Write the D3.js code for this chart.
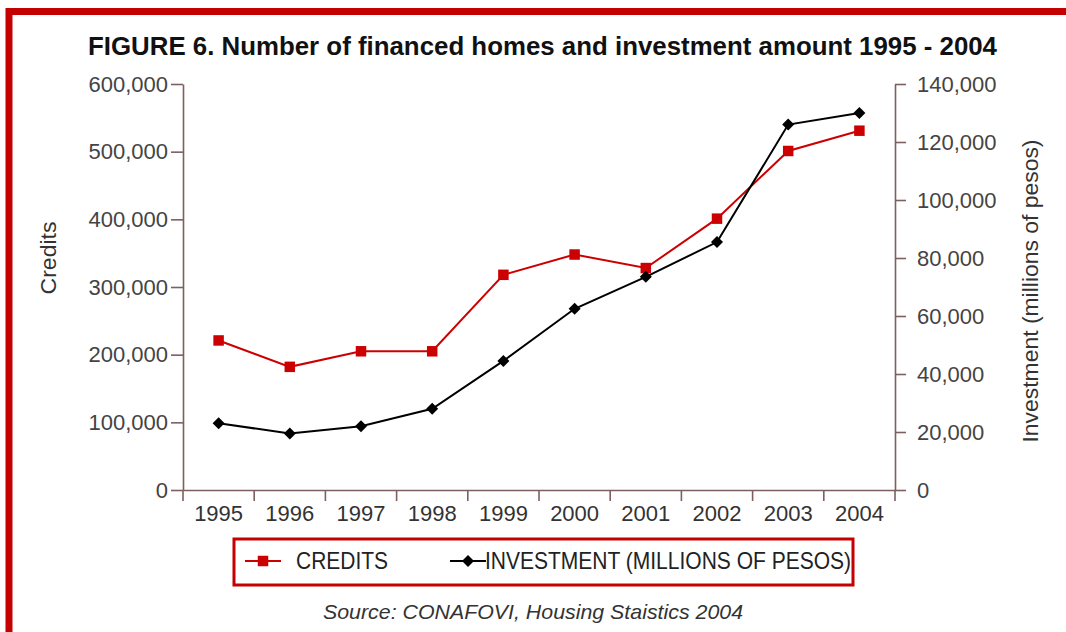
<!DOCTYPE html>
<html>
<head>
<meta charset="utf-8">
<script src="https://cdn.jsdelivr.net/npm/d3@7"></script>
<style>
  html, body { margin: 0; padding: 0; background: #fff; }
  svg { display: block; font-family: "Liberation Sans", Arial, sans-serif; }
</style>
</head>
<body>
<svg id="chart" width="1066" height="632"></svg>
<script>
// Housing finance in Mexico, 1995-2004
const years = ["1995", "1996", "1997", "1998", "1999", "2000", "2001", "2002", "2003", "2004"];
const credits = [221000, 182000, 205000, 205000, 318000, 348000, 328000, 401000, 501000, 531000];
const investment = [23000, 19500, 22000, 28000, 44500, 62500, 73500, 85500, 126000, 130000];
const leftTicks = [0, 100000, 200000, 300000, 400000, 500000, 600000];
const rightTicks = [0, 20000, 40000, 60000, 80000, 100000, 120000, 140000];

const svg = d3.select("#chart");
const frameRed = "#c40000";
const axisColor = "#7d5f5f";
const tickText = "#444";

// Frame edges (top and left)
svg.append("path")
  .attr("d", "M9,632 V11.5 H1066")
  .attr("fill", "none")
  .attr("stroke", frameRed)
  .attr("stroke-width", 7);

// Title
svg.append("text")
  .attr("x", 88).attr("y", 55)
  .attr("font-size", 25).attr("font-weight", "bold").attr("fill", "#111")
  .attr("textLength", 909).attr("lengthAdjust", "spacingAndGlyphs")
  .text("FIGURE 6. Number of financed homes and investment amount 1995 - 2004");

// Scales
const x = d3.scaleBand().domain(years).range([183, 895]);
const cx = d => x(d) + x.bandwidth() / 2;
const yL = d3.scaleLinear().domain([0, 600000]).range([490, 84]);
const yR = d3.scaleLinear().domain([0, 140000]).range([490, 84]);
const fmt = d3.format(",");

function styleAxis(g) {
  g.selectAll("path, line").attr("stroke", axisColor).attr("stroke-width", 1.6);
  g.selectAll("text").attr("fill", tickText).attr("font-size", 22)
    .attr("font-family", "\"Liberation Sans\", Arial, sans-serif");
}

// Left axis
svg.append("g")
  .attr("transform", "translate(183,0)")
  .call(d3.axisLeft(yL).tickValues(leftTicks).tickFormat(fmt).tickSize(12).tickSizeOuter(0).tickPadding(3))
  .call(styleAxis);

// Right axis
svg.append("g")
  .attr("transform", "translate(895,0)")
  .call(d3.axisRight(yR).tickValues(rightTicks).tickFormat(fmt).tickSize(11).tickSizeOuter(0).tickPadding(11))
  .call(styleAxis);

// Bottom axis: labels at category centres, ticks at category boundaries
const bottom = svg.append("g")
  .attr("transform", "translate(0,490)")
  .call(d3.axisBottom(x).tickSize(0).tickSizeOuter(0).tickPadding(15))
  .call(styleAxis);
bottom.selectAll("text").attr("fill", "#333");
const bounds = years.map(d => x(d)).concat([x.range()[1]]);
bottom.selectAll("line.bound")
  .data(bounds)
  .join("line")
  .attr("class", "bound")
  .attr("x1", d => d).attr("x2", d => d)
  .attr("y1", 0).attr("y2", 11)
  .attr("stroke", axisColor).attr("stroke-width", 1.6);

// Axis titles
svg.append("text")
  .attr("transform", "translate(56,258) rotate(-90)")
  .attr("text-anchor", "middle")
  .attr("font-size", 22).attr("fill", "#333")
  .attr("textLength", 73).attr("lengthAdjust", "spacingAndGlyphs")
  .text("Credits");
svg.append("text")
  .attr("transform", "translate(1038,291) rotate(-90)")
  .attr("text-anchor", "middle")
  .attr("font-size", 22).attr("fill", "#333")
  .attr("textLength", 303).attr("lengthAdjust", "spacingAndGlyphs")
  .text("Investment (millions of pesos)");

// Series
const redColor = "#cc0000";
const lineL = d3.line().x((d, i) => cx(years[i])).y(d => yL(d));
const lineR = d3.line().x((d, i) => cx(years[i])).y(d => yR(d));

svg.append("path").datum(credits)
  .attr("d", lineL).attr("fill", "none")
  .attr("stroke", redColor).attr("stroke-width", 2);
svg.append("path").datum(investment)
  .attr("d", lineR).attr("fill", "none")
  .attr("stroke", "#000").attr("stroke-width", 2);

// Markers: filled squares for credits, squares turned 45° for investment
const square = d3.symbol().type(d3.symbolSquare).size(110);
const diamond = d3.symbol().type(d3.symbolSquare).size(72);

svg.selectAll("path.credit-pt")
  .data(credits)
  .join("path")
  .attr("class", "credit-pt")
  .attr("d", square)
  .attr("transform", (d, i) => `translate(${cx(years[i])},${yL(d)})`)
  .attr("fill", redColor);

svg.selectAll("path.inv-pt")
  .data(investment)
  .join("path")
  .attr("class", "inv-pt")
  .attr("d", diamond)
  .attr("transform", (d, i) => `translate(${cx(years[i])},${yR(d)}) rotate(45)`)
  .attr("fill", "#000");

// Legend
const legend = svg.append("g");
legend.append("rect")
  .attr("x", 234).attr("y", 539).attr("width", 619).attr("height", 46)
  .attr("fill", "none").attr("stroke", frameRed).attr("stroke-width", 3);

legend.append("line")
  .attr("x1", 245).attr("x2", 281).attr("y1", 561).attr("y2", 561)
  .attr("stroke", redColor).attr("stroke-width", 2);
legend.append("path")
  .attr("d", square).attr("transform", "translate(263,561)").attr("fill", redColor);
legend.append("text")
  .attr("x", 296).attr("y", 569)
  .attr("font-size", 24).attr("fill", "#222")
  .attr("textLength", 92).attr("lengthAdjust", "spacingAndGlyphs")
  .text("CREDITS");

legend.append("line")
  .attr("x1", 450).attr("x2", 486).attr("y1", 561).attr("y2", 561)
  .attr("stroke", "#000").attr("stroke-width", 2);
legend.append("path")
  .attr("d", diamond).attr("transform", "translate(468,561) rotate(45)").attr("fill", "#000");
legend.append("text")
  .attr("x", 485).attr("y", 569)
  .attr("font-size", 24).attr("fill", "#222")
  .attr("textLength", 366).attr("lengthAdjust", "spacingAndGlyphs")
  .text("INVESTMENT (MILLIONS OF PESOS)");

// Source note
svg.append("text")
  .attr("x", 533).attr("y", 619)
  .attr("text-anchor", "middle")
  .attr("font-size", 21).attr("font-style", "italic").attr("fill", "#333")
  .attr("textLength", 420).attr("lengthAdjust", "spacingAndGlyphs")
  .text("Source: CONAFOVI, Housing Staistics 2004");
</script>
</body>
</html>
